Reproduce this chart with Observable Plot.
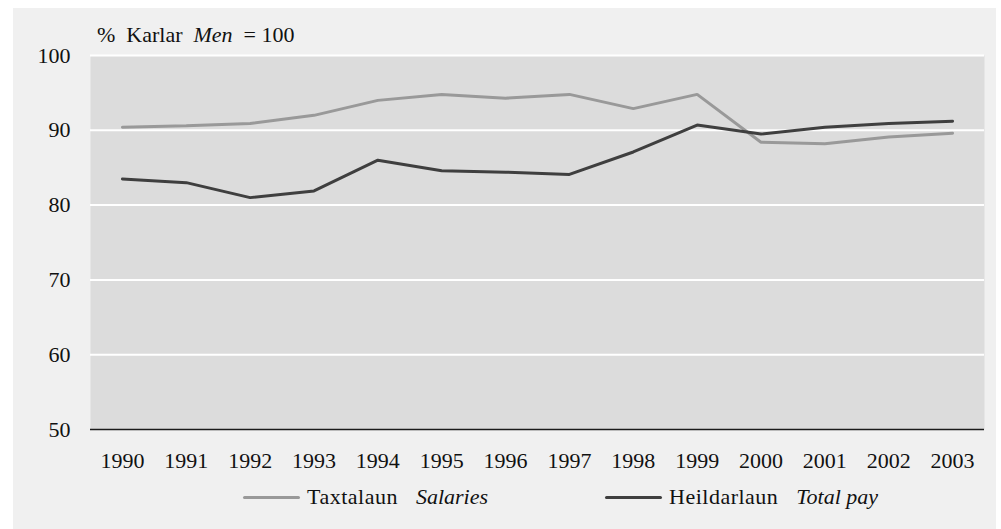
<!DOCTYPE html>
<html>
<head>
<meta charset="utf-8">
<script src="https://cdn.jsdelivr.net/npm/d3@7"></script>
<script src="https://cdn.jsdelivr.net/npm/@observablehq/plot@0.6"></script>
<style>
  html, body { margin: 0; padding: 0; background: #ffffff; }
  body { width: 1001px; height: 529px; position: relative; overflow: hidden;
         font-family: "Liberation Serif", "Times New Roman", serif; color: #111; }
  #panel { position: absolute; left: 13px; top: 8px; width: 983px; height: 521px; background: #f0f0f0; }
  #chart { position: absolute; left: 0; top: 0; }
  #unit { position: absolute; left: 84px; top: 16px; font-size: 22px; line-height: 1; white-space: nowrap; }
  .legend-item { position: absolute; top: 477px; height: 24px; display: flex; align-items: center;
                 font-size: 22px; line-height: 1; white-space: nowrap; }
  .swatch { width: 57px; height: 3px; border-radius: 2px; margin-right: 7px; }
  .native { letter-spacing: 0.5px; }
  .english { font-style: italic; margin-left: 18px; }
</style>
</head>
<body>
<div id="panel">
  <div id="chart"></div>
  <div id="unit">%&nbsp; Karlar&nbsp; <i>Men</i>&nbsp; = 100</div>
  <div class="legend-item" style="left:230px">
    <div class="swatch" style="background:#999999"></div>
    <span class="native">Taxtalaun</span><span class="english">Salaries</span>
  </div>
  <div class="legend-item" style="left:592px">
    <div class="swatch" style="background:#3f3f3f"></div>
    <span class="native">Heildarlaun</span><span class="english">Total pay</span>
  </div>
</div>
<script>
// Women's pay as a percentage of men's pay (men = 100), 1990–2003
const years = ["1990","1991","1992","1993","1994","1995","1996","1997","1998","1999","2000","2001","2002","2003"];
const salaries = [90.4, 90.6, 90.9, 92.0, 94.0, 94.8, 94.3, 94.8, 92.9, 94.8, 88.4, 88.2, 89.1, 89.6];
const totalPay = [83.5, 83.0, 81.0, 81.9, 86.0, 84.6, 84.4, 84.1, 87.1, 90.7, 89.5, 90.4, 90.9, 91.2];
const yTicks = [50, 60, 70, 80, 90, 100];
const gridValues = [60, 70, 80, 90, 100];

const seriesColors = { salaries: "#999999", total: "#3f3f3f" };

const salaryRows = years.map((year, i) => ({ year, value: salaries[i] }));
const totalRows = years.map((year, i) => ({ year, value: totalPay[i] }));

const chart = Plot.plot({
  width: 983,
  height: 470,
  marginLeft: 77,
  marginRight: 12,
  marginTop: 47,
  marginBottom: 49,
  style: { fontFamily: "Liberation Serif, Times New Roman, serif", fontSize: "22px", background: "transparent", color: "#111" },
  x: { type: "point", domain: years, padding: 0.5, round: false, label: null, tickSize: 0, tickPadding: 23 },
  y: { domain: [50, 100], ticks: yTicks, label: null, tickSize: 0, tickPadding: 20 },
  marks: [
    Plot.frame({ fill: "#dcdcdc", stroke: "none" }),
    Plot.ruleY(gridValues, { stroke: "#ffffff", strokeWidth: 2 }),
    Plot.ruleY([50], { stroke: "#1a1a1a", strokeWidth: 1.5 }),
    Plot.line(salaryRows, { x: "year", y: "value", stroke: seriesColors.salaries, strokeWidth: 3, strokeLinecap: "round", strokeLinejoin: "miter" }),
    Plot.line(totalRows, { x: "year", y: "value", stroke: seriesColors.total, strokeWidth: 3, strokeLinecap: "round", strokeLinejoin: "miter" })
  ]
});
document.getElementById("chart").appendChild(chart);
</script>
</body>
</html>
